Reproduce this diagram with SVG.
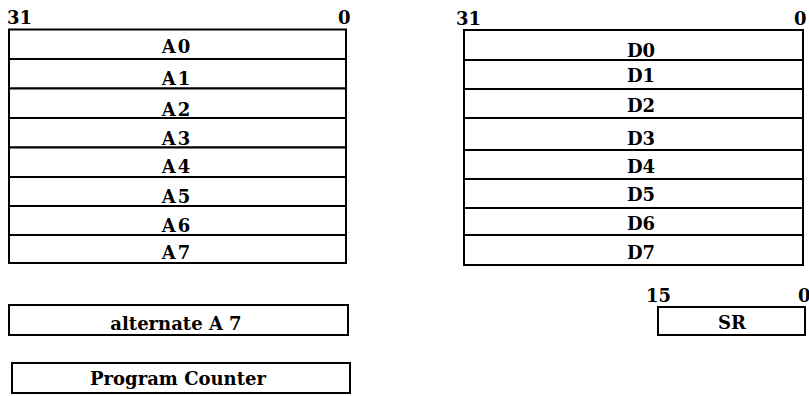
<svg xmlns="http://www.w3.org/2000/svg" width="809" height="396" viewBox="0 0 809 396">
<style>
.reg{fill:#fff;stroke:#000;stroke-width:2}
.lbl{font-family:"DejaVu Serif","Liberation Serif",serif;font-weight:bold;font-size:18px;fill:#000;text-anchor:middle}
.num{font-family:"DejaVu Serif","Liberation Serif",serif;font-weight:bold;font-size:18px;fill:#000}
</style>
<rect width="809" height="396" fill="#fff"/>
<g id="bits">
<text class="num" x="7" y="24">31</text>
<text class="num" x="338" y="24">0</text>
<text class="num" x="456" y="25">31</text>
<text class="num" x="794" y="25">0</text>
<text class="num" x="646" y="302">15</text>
<text class="num" x="798" y="302">0</text>
</g>
<g id="A0"><rect class="reg" x="9" y="29.5" width="337" height="29.5"/><text class="lbl" x="177" y="53" letter-spacing="2">A0</text></g>
<g id="A1"><rect class="reg" x="9" y="59" width="337" height="29.5"/><text class="lbl" x="177" y="85" letter-spacing="2">A1</text></g>
<g id="A2"><rect class="reg" x="9" y="88.5" width="337" height="29.5"/><text class="lbl" x="177" y="116" letter-spacing="2">A2</text></g>
<g id="A3"><rect class="reg" x="9" y="118" width="337" height="29.5"/><text class="lbl" x="177" y="145" letter-spacing="2">A3</text></g>
<g id="A4"><rect class="reg" x="9" y="147.5" width="337" height="29.5"/><text class="lbl" x="177" y="173" letter-spacing="2">A4</text></g>
<g id="A5"><rect class="reg" x="9" y="177" width="337" height="29"/><text class="lbl" x="177" y="203" letter-spacing="2">A5</text></g>
<g id="A6"><rect class="reg" x="9" y="206" width="337" height="29"/><text class="lbl" x="177" y="232" letter-spacing="2">A6</text></g>
<g id="A7"><rect class="reg" x="9" y="235" width="337" height="28"/><text class="lbl" x="177" y="259" letter-spacing="2">A7</text></g>
<g id="D0"><rect class="reg" x="464" y="30" width="339" height="30"/><text class="lbl" x="641" y="57">D0</text></g>
<g id="D1"><rect class="reg" x="464" y="60" width="339" height="29"/><text class="lbl" x="641" y="82">D1</text></g>
<g id="D2"><rect class="reg" x="464" y="89" width="339" height="29"/><text class="lbl" x="641" y="112">D2</text></g>
<g id="D3"><rect class="reg" x="464" y="118" width="339" height="32"/><text class="lbl" x="641" y="145">D3</text></g>
<g id="D4"><rect class="reg" x="464" y="150" width="339" height="29"/><text class="lbl" x="641" y="173">D4</text></g>
<g id="D5"><rect class="reg" x="464" y="179" width="339" height="29"/><text class="lbl" x="641" y="201">D5</text></g>
<g id="D6"><rect class="reg" x="464" y="208" width="339" height="27"/><text class="lbl" x="641" y="230">D6</text></g>
<g id="D7"><rect class="reg" x="464" y="235" width="339" height="30"/><text class="lbl" x="641" y="259">D7</text></g>
<g id="altA7"><rect class="reg" x="9" y="305" width="339" height="30"/><text class="lbl" x="176" y="330">alternate A 7</text></g>
<g id="PC"><rect class="reg" x="12" y="363" width="338" height="30"/><text class="lbl" x="178" y="385">Program Counter</text></g>
<g id="SR"><rect class="reg" x="658" y="307" width="147" height="28"/><text class="lbl" x="732" y="329">SR</text></g>
<g id="connectors"></g>
</svg>
